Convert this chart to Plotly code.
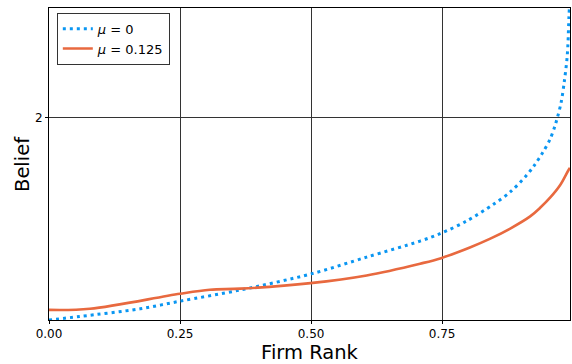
import plotly.graph_objects as go

# Data
rank_mu0 = [0.0, 0.059, 0.174, 0.25, 0.365, 0.5, 0.606, 0.708, 0.748, 0.797,
            0.848, 0.880, 0.910, 0.927, 0.942, 0.956, 0.965, 0.969, 0.977,
            0.983, 0.988, 0.990, 0.992, 0.994]
belief_mu0 = [0.0, 0.035, 0.111, 0.186, 0.297, 0.456, 0.622, 0.781, 0.858, 0.980,
              1.145, 1.267, 1.425, 1.538, 1.657, 1.789, 1.915, 1.985, 2.150,
              2.354, 2.572, 2.721, 3.0, 3.2]

rank_mu125 = [0.0, 0.078, 0.25, 0.307, 0.365, 0.499, 0.606, 0.708, 0.748, 0.803,
              0.842, 0.880, 0.918, 0.937, 0.956, 0.975, 0.991, 0.994]
belief_mu125 = [0.10, 0.111, 0.260, 0.299, 0.310, 0.365, 0.441, 0.557, 0.612, 0.718,
                0.805, 0.905, 1.025, 1.110, 1.210, 1.333, 1.482, 1.505]

x_ticks = [0.0, 0.25, 0.5, 0.75]
x_tick_labels = ["0.00", "0.25", "0.50", "0.75"]
y_ticks = [2]
y_tick_labels = ["2"]

fig = go.Figure()
fig.add_trace(go.Scatter(
    x=rank_mu0, y=belief_mu0, mode="lines", name="<i>μ</i> = 0",
    line=dict(color="#0A96F2", width=3, dash="3px,4px", shape="spline", smoothing=0.9),
))
fig.add_trace(go.Scatter(
    x=rank_mu125, y=belief_mu125, mode="lines", name="<i>μ</i> = 0.125",
    line=dict(color="#E8693F", width=2.6, shape="spline", smoothing=1.0),
))

axis_common = dict(
    showline=True, linecolor="black", linewidth=1, mirror=True,
    showgrid=True, gridcolor="#333333", gridwidth=1,
    zeroline=False, ticks="outside", ticklen=3, tickcolor="black",
    tickfont=dict(family="DejaVu Sans", size=12, color="black"),
)

fig.update_layout(
    width=572, height=364,
    margin=dict(l=49, r=2, t=8, b=44),
    paper_bgcolor="white", plot_bgcolor="white",
    font=dict(family="DejaVu Sans", color="black"),
    xaxis=dict(range=[0, 0.994], tickvals=x_ticks, ticktext=x_tick_labels,
               title=dict(text="Firm Rank", font=dict(size=19.5), standoff=0), **axis_common),
    yaxis=dict(range=[0, 3.087], tickvals=y_ticks, ticktext=y_tick_labels, **axis_common),
    legend=dict(x=0.015, y=0.985, xanchor="left", yanchor="top",
                bgcolor="white", bordercolor="#333333", borderwidth=1,
                font=dict(size=13), tracegroupgap=0),
    showlegend=True,
    annotations=[dict(text="Belief", textangle=-90, font=dict(size=19.5),
                      xref="paper", yref="paper", x=(22 - 49) / 521, y=0.5,
                      xanchor="center", yanchor="middle", showarrow=False)],
)

fig.write_html("out.html", config={"displayModeBar": False},
               post_script="document.body.style.margin='0';")
